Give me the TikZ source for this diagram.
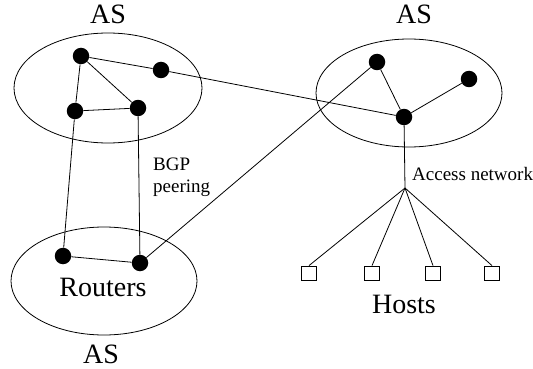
\documentclass[tikz,border=0pt]{standalone}
\usepackage{fontspec}
\setmainfont{Liberation Serif}
\begin{document}
\begin{tikzpicture}[x=1pt,y=-1pt,
  router/.style={circle,fill=black,inner sep=0pt,minimum size=16.5pt},
  host/.style={rectangle,draw,inner sep=0pt,minimum width=15pt,minimum height=14pt,line width=0.8pt},
  asring/.style={draw,line width=0.8pt},
  link/.style={line width=0.8pt},
  big/.style={font=\fontsize{28}{30}\selectfont,inner sep=0pt},
  small/.style={font=\fontsize{19}{22}\selectfont,inner sep=0pt}]
\useasboundingbox (0,0) rectangle (533,369);
% AS ellipses
\draw[asring] (108,88) ellipse [x radius=94, y radius=55];
\draw[asring] (409,93) ellipse [x radius=93, y radius=54];
\draw[asring] (104,281) ellipse [x radius=93, y radius=54];
% routers
\node[router] (a) at (81,56) {};
\node[router] (b) at (161,70) {};
\node[router] (c) at (75,111) {};
\node[router] (d) at (138,108) {};
\node[router] (e) at (377,62) {};
\node[router] (f) at (469,79) {};
\node[router] (g) at (404,117) {};
\node[router] (h) at (63,256) {};
\node[router] (i) at (140,263) {};
\coordinate (hub) at (405,188);
% hosts
\node[host] (h1) at (309,273) {};
\node[host] (h2) at (372,273) {};
\node[host] (h3) at (433,273) {};
\node[host] (h4) at (492,273) {};
% links
\draw[link] (a) -- (b);
\draw[link] (a) -- (d);
\draw[link] (a) -- (c);
\draw[link] (c) -- (d);
\draw[link] (c) -- (h);
\draw[link] (d) -- (i);
\draw[link] (h) -- (i);
\draw[link] (b) -- (g);
\draw[link] (i) -- (e);
\draw[link] (e) -- (g);
\draw[link] (g) -- (f);
\draw[link] (g) -- (hub);
\draw[link] (hub) -- (h1.north);
\draw[link] (hub) -- (h2.north);
\draw[link] (hub) -- (h3.north);
\draw[link] (hub) -- (h4.north);
% labels
\node[big,anchor=base] (as1) at (108,24) {AS};
\node[big,anchor=base] (as2) at (414,24) {AS};
\node[big,anchor=base] (as3) at (101,363) {AS};
\node[big,anchor=base] (rt) at (103,296) {Routers};
\node[big,anchor=base] (hs) at (404,313) {Hosts};
\node[small,anchor=base west] (bgp1) at (153,170) {BGP};
\node[small,anchor=base west] (bgp2) at (153,192) {peering};
\node[small,anchor=base west] (acc) at (412,180) {Access network};
\end{tikzpicture}
\end{document}
